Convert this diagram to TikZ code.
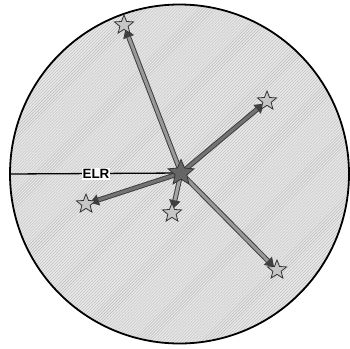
\documentclass[tikz,border=0pt]{standalone}
\usepackage{fontspec}
\setmainfont{Liberation Sans}
\usetikzlibrary{shapes.geometric,arrows.meta,patterns}
\pgfdeclarelayer{bg}
\pgfdeclarelayer{arr}
\pgfsetlayers{bg,arr,main}
\tikzset{
  smallstar/.style={star, star points=5, star point ratio=2.3, minimum size=20bp, inner sep=0pt, draw=black!80, line width=0.8bp, fill=gray!45},
  bigstar/.style={star, star points=5, star point ratio=2.2, minimum size=27bp, inner sep=0pt, draw=black!80, line width=0.8bp, fill=black!60},
  outer/.style={line width=5bp, draw=black!75, shorten >=4bp, -{Triangle[length=9bp,width=11bp]}},
  inner/.style={line width=3bp, shorten >=13bp}
}
\begin{document}
\begin{tikzpicture}[x=1bp,y=-1bp]
\useasboundingbox (0,0) rectangle (350,349);
\begin{pgfonlayer}{bg}
\fill[gray!18] (179.5,174) circle (169.5);
\fill[pattern=north east lines, pattern color=gray!55] (179.5,174) circle (169.5);
\draw[line width=1.8bp] (179.5,174) circle (169.5);
\end{pgfonlayer}
\coordinate (l) at (10,174);
\node[smallstar] (t1) at (124,25) {};
\node[smallstar] (t2) at (267,101) {};
\node[smallstar] (t3) at (86,204) {};
\node[smallstar] (t4) at (172,213) {};
\node[smallstar] (t5) at (277,270) {};
\node[bigstar] (c) at (181,173) {};
\begin{pgfonlayer}{arr}
\draw[line width=1.3bp] (l) -- (c.center);
\foreach \t/\col in {t1/gray!80, t2/black!55, t3/black!55, t4/gray!70, t5/gray!80}{
  \draw[outer] (c.center) -- (\t.center);
  \draw[inner, draw=\col] (c.center) -- (\t.center);
}
\end{pgfonlayer}
\node[fill=white, inner sep=1bp, font=\bfseries\fontsize{13.5}{14}\selectfont] (elr) at (96,174) {ELR};
\end{tikzpicture}
\end{document}
